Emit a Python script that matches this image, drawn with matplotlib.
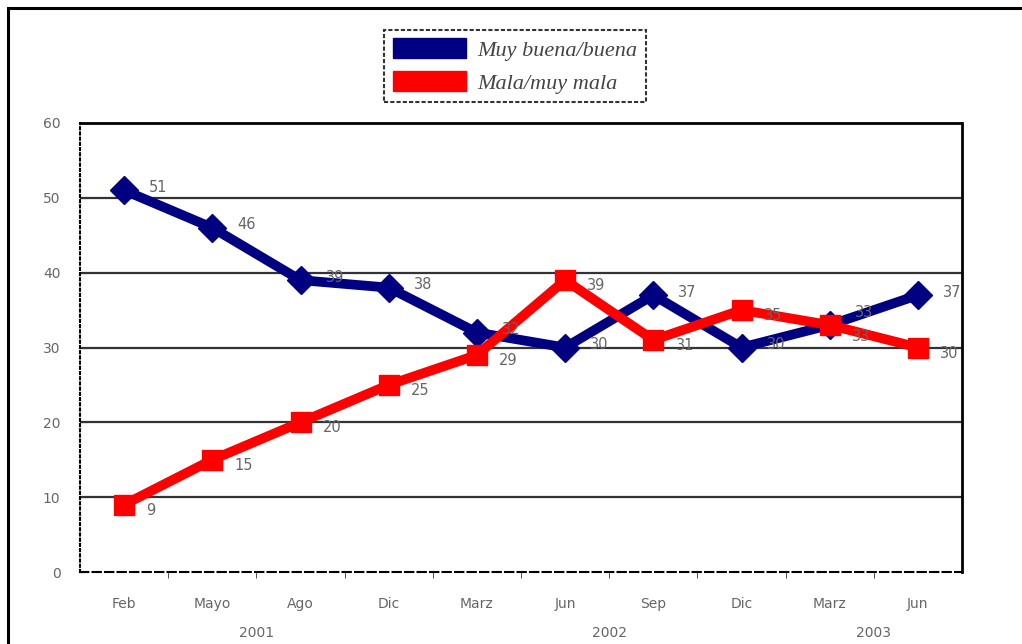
import matplotlib.pyplot as plt
from matplotlib.patches import Rectangle, Patch
from matplotlib.transforms import blended_transform_factory

# Periodos de la encuesta
meses = ["Feb", "Mayo", "Ago", "Dic", "Marz", "Jun", "Sep", "Dic", "Marz", "Jun"]
anios = ["2001", "2002", "2003"]
anios_pos = [1.5, 5.5, 8.5]

buena = [51, 46, 39, 38, 32, 30, 37, 30, 33, 37]
mala = [9, 15, 20, 25, 29, 39, 31, 35, 33, 30]

azul = "#000080"
rojo = "#ff0000"
gris = "#666666"

fig = plt.figure(figsize=(10.22, 6.44), dpi=100)
fig.patch.set_facecolor("white")

# marco exterior del grafico
fig.add_artist(Rectangle((8 / 1022, -0.1), 1.2, 0.1 + (644 - 8) / 644,
                         transform=fig.transFigure, fill=False,
                         edgecolor="black", linewidth=2.2))

ax = fig.add_axes([80 / 1022, 72 / 644, 882 / 1022, 449 / 644])
x = list(range(len(meses)))

for y in [10, 20, 30, 40, 50]:
    ax.axhline(y, color="#333333", linewidth=1.6, zorder=1)

ax.plot(x, buena, color=azul, linewidth=7, marker="D", markersize=14,
        markeredgecolor=azul, zorder=3)
ax.plot(x, mala, color=rojo, linewidth=7, marker="s", markersize=15,
        markeredgecolor=rojo, zorder=4)

# etiquetas de valor; las que coinciden se separan en vertical
for i, v in enumerate(buena):
    dy = 9 if v == mala[i] else 2
    ax.annotate(str(v), (i, v), xytext=(18, dy), textcoords="offset points",
                ha="left", va="center", fontsize=10.5, color=gris, zorder=5)
for i, v in enumerate(mala):
    dy = -8 if v == buena[i] else -4
    ax.annotate(str(v), (i, v), xytext=(16, dy), textcoords="offset points",
                ha="left", va="center", fontsize=10.5, color=gris, zorder=5)

ax.set_xlim(-0.5, len(meses) - 0.5)
ax.set_ylim(0, 60)
ax.set_yticks(range(0, 61, 10))
ax.set_xticks(x)
ax.set_xticklabels(meses)
ax.set_xticks([i + 0.5 for i in range(len(meses) - 1)], minor=True)
ax.tick_params(axis="x", which="major", length=0, pad=18, labelsize=10,
               labelcolor=gris)
ax.tick_params(axis="x", which="minor", length=4, direction="out",
               color="#333333")
ax.tick_params(axis="y", length=6, direction="in", pad=14, labelsize=10,
               labelcolor=gris, color="#333333")

trans = blended_transform_factory(ax.transData, ax.transAxes)
for xp, a in zip(anios_pos, anios):
    ax.text(xp, -0.135, a, transform=trans, ha="center", va="center",
            fontsize=10, color=gris)

ax.spines["top"].set_linestyle((0, (1, 1)))
ax.spines["top"].set_linewidth(2)
ax.spines["left"].set_linestyle((0, (1, 1.5)))
ax.spines["left"].set_linewidth(1.5)
ax.spines["bottom"].set_linestyle((0, (4, 2)))
ax.spines["bottom"].set_linewidth(1.5)
ax.spines["right"].set_linewidth(2)

handles = [Patch(facecolor=azul, edgecolor=azul, label="Muy buena/buena"),
           Patch(facecolor=rojo, edgecolor=rojo, label="Mala/muy mala")]
leg = fig.legend(handles=handles, loc="center",
                 bbox_to_anchor=(515 / 1022, 1 - 66 / 644),
                 prop={"family": "Liberation Serif", "style": "italic",
                       "size": 16},
                 frameon=True, fancybox=False, handlelength=3.3,
                 handleheight=1.0, labelspacing=0.45, borderpad=0.4,
                 handletextpad=0.5, borderaxespad=0)
leg.get_frame().set_edgecolor("black")
leg.get_frame().set_linestyle((0, (2, 1)))
leg.get_frame().set_linewidth(1.5)
for t in leg.get_texts():
    t.set_color("#444444")

fig.savefig("out.png", dpi=100)
